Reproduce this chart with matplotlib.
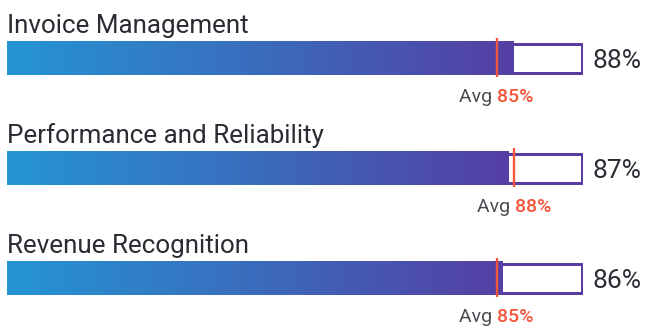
import matplotlib.pyplot as plt
import numpy as np
from matplotlib.colors import LinearSegmentedColormap
from matplotlib.patches import Rectangle
from matplotlib.offsetbox import TextArea, HPacker, AnnotationBbox

categories = ["Invoice Management", "Performance and Reliability", "Revenue Recognition"]
scores = [88, 87, 86]
averages = [85, 88, 85]

plt.rcParams['font.family'] = ['Roboto', 'DejaVu Sans']

ROW_PX = 110.0          # vertical distance between rows, in pixels
TRACK_PX = 576.0        # width of the 0-100 track, in pixels
BAR_H = 32 / ROW_PX
BORDER_PX = 3.0
TEXT_DARK = '#2b2b33'
TEXT_GREY = '#4a4a52'
AVG_RED = '#f4553b'
OUTLINE = '#5a3ba1'

fill_cmap = LinearSegmentedColormap.from_list('fill', ['#2595d4', '#3a6cbc', '#553fa4'])

fig = plt.figure(figsize=(6.45, 3.27), dpi=100)
ax = fig.add_axes([7 / 645, 0, TRACK_PX / 645, 1])
ax.set_xlim(0, 100)
# first row centred 58 px from the top, rows 110 px apart
ax.set_ylim((327 - 58) / ROW_PX, -58 / ROW_PX)
ax.axis('off')

grad = np.linspace(0, 1, 256).reshape(1, -1)
bx = BORDER_PX / 2 / TRACK_PX * 100
by = BORDER_PX / 2 / ROW_PX
pad = 0.8 / ROW_PX      # fill slightly overlaps the stroke so no edge peeks out

for i, (name, score, avg) in enumerate(zip(categories, scores, averages)):
    y = i
    # outline of the full 0-100 track (stroke kept inside the bar box)
    ax.add_patch(Rectangle((bx, y - BAR_H / 2 + by), 100 - 2 * bx, BAR_H - 2 * by,
                           fill=False, edgecolor=OUTLINE,
                           linewidth=BORDER_PX * 0.72, zorder=1))
    # gradient fill for the score, drawn over the outline
    ax.imshow(grad, cmap=fill_cmap, aspect='auto', interpolation='bicubic',
              extent=[0, score, y + BAR_H / 2 + pad, y - BAR_H / 2 - pad], zorder=2)
    # average marker
    ax.plot([avg, avg], [y - 20 / ROW_PX, y + 19 / ROW_PX], color=AVG_RED,
            linewidth=1.7, solid_capstyle='butt', zorder=3)

    ax.text(0, y - 25 / ROW_PX, name, fontsize=18.7, color=TEXT_DARK,
            ha='left', va='baseline')
    ax.text(101.6, y + 10 / ROW_PX, f"{score}%", fontsize=19, color=TEXT_DARK,
            ha='left', va='baseline')

    avg_label = HPacker(children=[
        TextArea("Avg ", textprops=dict(fontsize=14, color=TEXT_GREY)),
        TextArea(f"{avg}%", textprops=dict(fontsize=14, color=AVG_RED, fontweight='medium')),
    ], pad=0, sep=0, align='baseline')
    ab = AnnotationBbox(avg_label, (avg, y + 39 / ROW_PX), frameon=False,
                        box_alignment=(0.5, 0.5), annotation_clip=False)
    ax.add_artist(ab)

fig.savefig('out.png', dpi=100)
